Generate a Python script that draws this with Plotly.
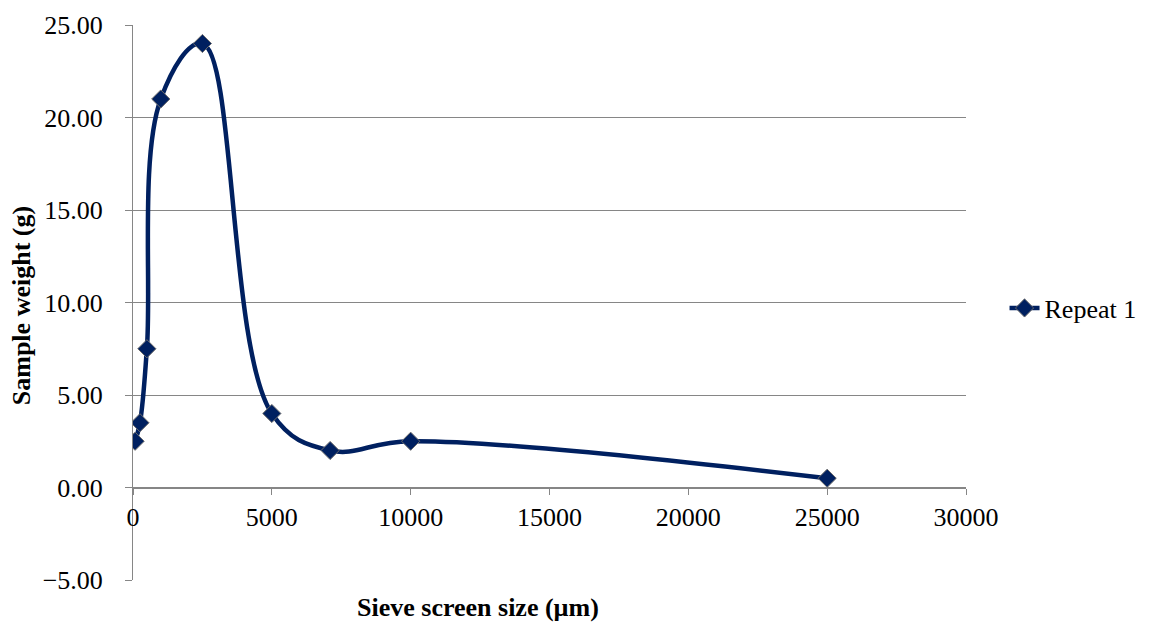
import plotly.graph_objects as go

# Sieve analysis, repeat 1
sieve_size_um = [75, 250, 500, 1000, 2500, 5000, 7100, 10000, 25000]
sample_weight_g = [2.5, 3.5, 7.5, 21.0, 24.0, 4.0, 2.0, 2.5, 0.5]
series_name = "Repeat 1"

x_ticks = [0, 5000, 10000, 15000, 20000, 25000, 30000]
y_ticks = [-5, 0, 5, 10, 15, 20, 25]

NAVY = "#002060"
GRID = "#868686"
FONT = "Times New Roman, Liberation Serif, Tinos, serif"

fig = go.Figure()
fig.add_trace(go.Scatter(
    x=sieve_size_um,
    y=sample_weight_g,
    name=series_name,
    mode="lines+markers",
    line=dict(color=NAVY, width=4.5, shape="spline", smoothing=1.1),
    marker=dict(symbol="diamond", size=14, color=NAVY,
                line=dict(color="#6b6b6b", width=1)),
))

fig.update_layout(
    width=1153, height=623,
    margin=dict(l=133, r=186, t=25, b=43),
    paper_bgcolor="white", plot_bgcolor="white",
    font=dict(family=FONT, size=26, color="black"),
    showlegend=True,
    legend=dict(x=1.045, y=0.49, xanchor="left", yanchor="middle",
                font=dict(family=FONT, size=26, color="black"),
                bgcolor="rgba(0,0,0,0)"),
    xaxis=dict(
        range=[0, 30000], tickvals=x_ticks, tickformat="d",
        showgrid=False, zeroline=False,
        showline=True, linecolor=GRID, linewidth=1,
        ticks="outside", ticklen=6, tickcolor=GRID,
        anchor="free", position=1/6,
        tickfont=dict(family=FONT, size=26, color="black"),
    ),
    yaxis=dict(
        range=[-5, 25], tickvals=y_ticks, tickformat=".2f",
        showgrid=True, gridcolor=GRID, gridwidth=1, zeroline=False,
        showline=True, linecolor=GRID, linewidth=1,
        ticks="outside", ticklen=7, tickcolor=GRID,
        ticklabelstandoff=17,
        tickfont=dict(family=FONT, size=26, color="black"),
    ),
    annotations=[
        dict(text="<b>Sieve screen size (µm)</b>", xref="paper", yref="paper",
             x=0.4137, y=-0.05, xanchor="center", yanchor="middle",
             showarrow=False, font=dict(family=FONT, size=26, color="black")),
        dict(text="<b>Sample weight (g)</b>", xref="paper", yref="paper",
             x=-0.133, y=0.4937, xanchor="center", yanchor="middle",
             textangle=-90, showarrow=False,
             font=dict(family=FONT, size=26, color="black")),
    ],
)

fig.write_html("out.html")
